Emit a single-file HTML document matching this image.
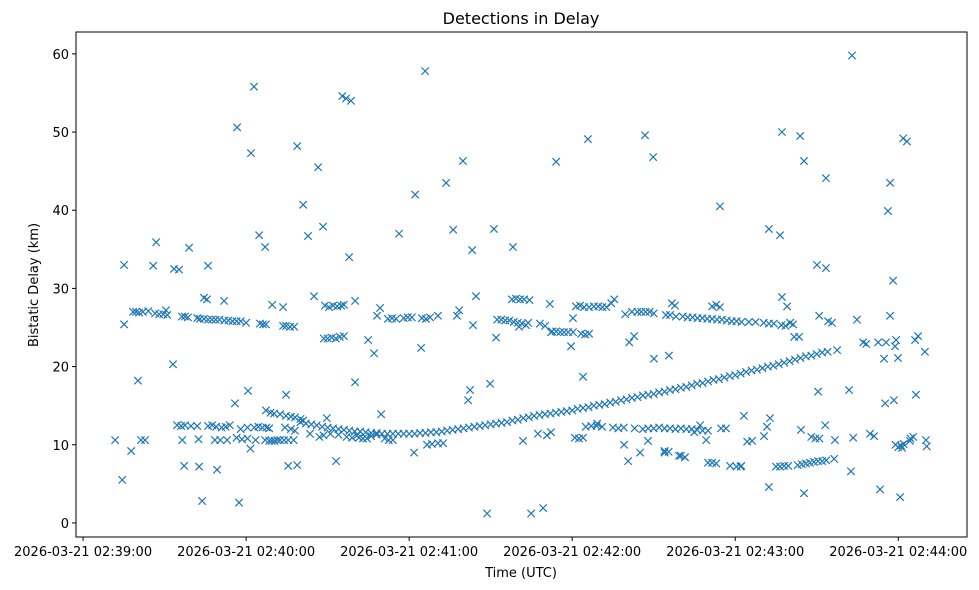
<!DOCTYPE html>
<html><head><meta charset="utf-8"><style>
html,body{margin:0;padding:0;background:#fff}
svg{display:block;font-family:"DejaVu Sans","Liberation Sans",sans-serif}
</style></head><body>
<svg id="chart" width="979" height="590">
<rect width="979" height="590" fill="#fff"/>
<text x="521" y="24" text-anchor="middle" font-size="16">Detections in Delay</text>
<text x="521" y="577" text-anchor="middle" font-size="13">Time (UTC)</text>
<text transform="translate(38,285) rotate(-90)" text-anchor="middle" font-size="13">Bistatic Delay (km)</text>
<g id="marks"></g>
<g id="axes"></g>
</svg>
<script>
const xTickSecs=[0,60,120,180,240,300];
const xTickLabels=["2026-03-21 02:39:00","2026-03-21 02:40:00","2026-03-21 02:41:00","2026-03-21 02:42:00","2026-03-21 02:43:00","2026-03-21 02:44:00"];
const yTicks=[0,10,20,30,40,50,60];
const times=[11.8,14.4,15.1,15.1,17.7,20.2,21.3,22.8,26.9,25.8,33.1,33.5,35.3,39,46,37.2,42.7,43.8,49.3,44.5,45.6,51.9,56.7,57.4,55.9,60.7,61.8,62.9,64.8,67,69.6,73.6,74.7,75.5,78.8,78.8,81,82.8,85,86.5,88.3,89.7,93.1,95.4,96.8,98.6,97.9,100.1,100.1,100.8,104.9,107.1,108.2,109.3,109.7,116.3,122.2,124.4,121.8,125.9,126.6,128.4,130.6,132.5,133.6,136.2,137.6,138.4,139.8,141.7,142.4,143.2,144.6,143.5,148.7,149.8,151.2,152,158.2,161.9,164.9,167.4,169.3,170.7,172.2,171.8,172.2,174.1,179.6,180.3,184,185.8,189.2,199.1,200.6,201,202.8,205,206.8,207.9,209.8,210.1,215.6,214,219.3,221.5,224.9,227.1,229.3,234.4,234.8,236.6,238.1,242.2,243.2,244.4,246.2,250.6,251.7,252.4,252.4,252.8,256.5,257.2,257.2,259.1,260.2,261.3,261.7,263.5,263.9,265.3,265.3,264.2,270.1,270.5,270.9,273.1,273.4,273.4,274.2,275.6,276.4,276.7,277.5,281.9,282.6,283,283.4,284.8,287.1,288.2,289.6,291.1,292.6,293.3,294.8,295.2,295.5,296.2,297,297,298.1,298.4,298.8,299.2,299.9,300.7,301.4,301.8,303.2,304.3,306.2,307.3,306.5,309.8,310.2,310.5,
18.4,19.5,20.6,22,24,26.5,28,29.5,31,30.5,36.4,37.5,38.6,42,43,44.5,46,47.4,48.8,50.2,52,53.5,55,56.5,58,60,65.1,66.2,67.3,73.6,74.7,76.2,77.7,89,90.5,92,93.5,95,96,88.6,90,91.5,93,94.5,96,112.2,113.7,115.2,118,119.5,121,124.7,126.2,127.7,130.6,152.4,153.9,155.4,156.9,158.5,160,161.5,163,157.8,159.3,160.8,162.3,164.3,160.4,163.8,168.1,170,172.6,174.1,175.6,177,178.5,180.3,181.4,182.9,184.4,186.2,188,189.6,191.1,192.6,194.4,195.5,183.3,184.8,186.2,199.5,202,204,205.4,207,208.5,210,216.7,217.8,214.5,216,218.2,220.7,222.5,224.3,226.1,227.9,229.7,231.5,233.3,235.1,236.9,238.7,240.5,242.3,245,247.5,250.5,252.4,254.2,231.5,233,234.4,257,258.5,
34.6,36.1,37.5,39.7,42,46,47.5,49,51,52.5,54,58,60.5,63,64.5,66,67.5,68.5,36.5,42.5,48.5,50.5,53,56.5,58.5,60.5,61.6,63.5,67,68.5,69.5,70.5,71.5,72.5,74,75.5,77.5,70.3,72.5,74.7,76.5,78,80,81,67.3,69,74.3,76.5,78,83.5,87,88.5,91,94,97,99,101.5,103,104.5,106,108,111,112.5,114,
80,82,84,86,88,90,92,94,96,98,100,102,104,106,108,110,112,114,116,118,120,122,124,126,128,130,132,134,136,138,140,142,144,146,148,150,152,154,156,158,160,162,164,166,168,170,172,174,176,178,180,182,184,186,188,190,192,194,196,198,200,202,204,206,208,210,212,214,216,218,220,222,224,226,228,230,232,234,236,238,240,242,244,246,248,250,252,254,256,258,260,262,264,266,268,270,272,274,
185,187,189,191,195,197,199,203,206,208,210,212,214,216,218,220,222,224,226,228,230,181,182.5,184,214,215.5,220,221.5,230,231.5,233,240.5,242,255,256.5,258,259.5,263,264.5,266,267.5,269,270.5,272,273.5,268,269.5,271,299,300,301,302,304.5,305.5];
const delays=[10.6,5.5,25.4,33,9.2,18.2,10.6,10.6,35.9,32.9,20.3,32.5,32.4,35.2,32.9,7.3,7.2,2.8,6.8,28.8,28.6,28.4,50.6,2.6,15.3,16.9,47.3,55.8,36.8,35.3,27.9,27.6,16.4,7.3,48.2,7.4,40.7,36.7,29,45.5,37.9,13.4,7.9,54.6,54.3,54,34,28.4,18,11.2,23.4,21.7,26.5,27.5,13.9,37,42,22.4,9,57.8,10,10.1,10.2,10.2,43.5,37.5,26.5,27.2,46.3,15.7,17,34.9,29,25.3,1.2,17.8,37.6,23.7,35.3,10.5,1.2,11.4,1.9,11.2,24.4,28,11.6,46.2,22.6,26.2,18.7,49.1,12.7,10,7.9,23.1,23.9,9,49.6,10.5,46.8,21,21.4,9.2,8.6,8.4,11.6,12.5,10.6,40.5,12.1,12.1,7.3,7.3,13.7,10.4,10.5,11.1,12.3,37.6,4.6,13.4,36.8,50,28.9,27.7,25.6,25.4,23.8,23.8,49.5,3.8,46.3,11.9,33,16.8,26.5,12.5,32.6,44.1,25.8,25.6,8.2,10.6,22.1,17,6.6,59.8,10.9,26,23.1,22.9,11.4,11.1,23.1,4.3,21,15.3,23.1,39.9,43.5,26.5,31,15.7,22.6,23.4,21.1,3.3,9.6,49.2,48.8,10.5,23.4,23.9,16.4,21.9,10.6,9.8,
27,27,26.9,27,27.1,26.8,26.7,26.7,26.6,27.2,26.4,26.4,26.3,26.2,26.1,26.1,26,26,26,26,25.9,25.9,25.8,25.8,25.8,25.6,25.5,25.4,25.4,25.2,25.2,25.1,25.1,27.8,27.6,27.8,27.7,27.8,27.9,23.6,23.6,23.7,23.6,23.8,23.9,26.1,26.2,26.1,26.2,26.3,26.3,26.2,26.1,26.3,26.5,26,26,25.9,25.9,25.7,25.6,25.5,25.3,28.6,28.7,28.6,28.6,28.5,25.1,25.6,25.5,25.2,24.5,24.5,24.4,24.4,24.4,24.4,27.7,27.8,27.6,27.6,27.7,27.7,27.6,27.6,28.1,28.6,24.2,24.1,24.2,26.7,27,27,27,27,27,26.8,28.1,27.8,26.6,26.6,26.4,26.4,26.3,26.3,26.2,26.2,26.1,26.1,26,26,25.9,25.8,25.8,25.7,25.7,25.7,25.6,25.5,25.5,27.7,27.9,27.6,25.3,25.2,
12.5,12.4,12.5,12.4,12.4,12.4,12.5,12.3,12.2,12.3,12.5,12,12.2,12.2,12.3,12.2,12.2,12.1,10.6,10.7,10.6,10.6,10.6,10.9,10.7,10.8,9.5,10.6,10.6,10.5,10.5,10.5,10.6,10.6,10.6,10.6,10.6,14,13.9,13.7,13.6,13.5,13.3,13.1,14.4,14.1,12.2,12,11.8,11.4,11,11.2,11.4,11.3,11,10.9,10.9,10.8,10.8,11.1,11.3,10.8,10.6,10.6,
12.9,12.7,12.6,12.5,12.3,12.2,12.1,12,11.9,11.8,11.7,11.7,11.6,11.5,11.5,11.4,11.4,11.4,11.4,11.4,11.4,11.4,11.5,11.5,11.6,11.6,11.7,11.8,11.9,12,12.1,12.2,12.3,12.4,12.5,12.6,12.7,12.8,12.9,13.1,13.2,13.4,13.5,13.7,13.8,13.9,14,14.1,14.2,14.3,14.4,14.6,14.7,14.8,15,15.1,15.2,15.4,15.5,15.7,15.8,16,16.1,16.3,16.4,16.5,16.7,16.8,17,17.1,17.3,17.4,17.6,17.8,17.9,18.1,18.3,18.4,18.6,18.8,18.9,19.1,19.3,19.5,19.6,19.8,20,20.1,20.3,20.5,20.7,20.9,21.1,21.3,21.4,21.6,21.8,21.9,
12.3,12.4,12.4,12.3,12.2,12.1,12.2,12.1,12,12.1,12.1,12.2,12.1,12.1,12,12.1,12,12,11.9,11.8,11.8,10.9,10.8,10.9,9,9.1,8.6,8.4,7.7,7.7,7.6,7.2,7.2,7.2,7.2,7.3,7.3,7.4,7.5,7.6,7.7,7.8,7.9,7.9,8,11,10.8,10.8,10,9.7,9.9,10.1,10.8,11];

const L=76,R=967,T=32,B=537;
const xMin=-2.6,xMax=325.3,yMin=-1.8,yMax=62.8;
function xs(s){return L+(s-xMin)/(xMax-xMin)*(R-L);}
function ys(v){return B-(v-yMin)/(yMax-yMin)*(B-T);}
const NS="http://www.w3.org/2000/svg";
const marks=document.getElementById('marks');
const n=Math.min(times.length,delays.length);
for(let i=0;i<n;i++){
  const x=xs(times[i]),y=ys(delays[i]),d=3.7;
  const p=document.createElementNS(NS,'path');
  p.setAttribute('d',`M${x-d},${y-d}L${x+d},${y+d}M${x-d},${y+d}L${x+d},${y-d}`);
  p.setAttribute('stroke','#1f77b4');p.setAttribute('stroke-width','1.2');p.setAttribute('fill','none');
  
  
  marks.appendChild(p);
}
const axes=document.getElementById('axes');
const frame=document.createElementNS(NS,'rect');
frame.setAttribute('x',L);frame.setAttribute('y',T);frame.setAttribute('width',R-L);frame.setAttribute('height',B-T);
frame.setAttribute('fill','none');frame.setAttribute('stroke','#000');frame.setAttribute('stroke-width','1');


axes.appendChild(frame);
yTicks.forEach(v=>{
  const y=ys(v);
  const l=document.createElementNS(NS,'line');
  l.setAttribute('x1',L-4);l.setAttribute('x2',L);l.setAttribute('y1',y);l.setAttribute('y2',y);l.setAttribute('stroke','#000');
  
  
  axes.appendChild(l);
  const t=document.createElementNS(NS,'text');
  t.setAttribute('x',L-7);t.setAttribute('y',y+5);t.setAttribute('text-anchor','end');t.setAttribute('font-size','13');
  t.textContent=String(v);
  
  
  axes.appendChild(t);
});
xTickSecs.forEach((s,i)=>{
  const x=xs(s);
  const l=document.createElementNS(NS,'line');
  l.setAttribute('x1',x);l.setAttribute('x2',x);l.setAttribute('y1',B);l.setAttribute('y2',B+4);l.setAttribute('stroke','#000');
  
  
  axes.appendChild(l);
  const t=document.createElementNS(NS,'text');
  t.setAttribute('x',x);t.setAttribute('y',B+19);t.setAttribute('text-anchor','middle');t.setAttribute('font-size','13');
  t.textContent=xTickLabels[i];
  
  
  axes.appendChild(t);
});
</script>
</body></html>
